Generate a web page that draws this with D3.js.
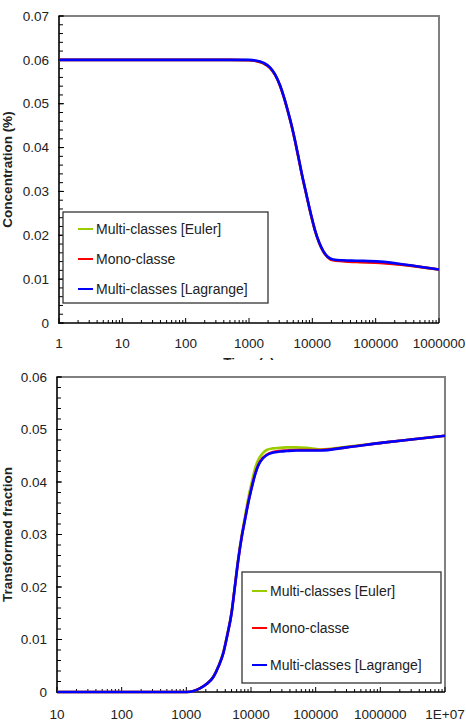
<!DOCTYPE html>
<html><head><meta charset="utf-8">
<script src="https://cdn.jsdelivr.net/npm/d3@7"></script>
<style>
html,body{margin:0;padding:0;background:#fff;}
svg{display:block;overflow:hidden;}
text{font-family:"Liberation Sans",Arial,Helvetica,sans-serif;fill:#222;}
</style></head><body>
<div id="c"></div>
<script>
// ---------- Data: panel 1 (concentration) ----------
const time1 = [1, 10, 100, 500, 1000, 1320, 1700, 2140, 2600, 3090, 3600, 4170, 4700, 5330, 6000, 6780, 7700, 8690, 9800, 11000, 12800, 14900, 17500, 21300, 30000, 50000, 117000, 300000, 1000000];
const concEuler    = [0.060, 0.060, 0.060, 0.060, 0.0599, 0.0597, 0.0592, 0.0582, 0.0565, 0.0541, 0.0512, 0.0479, 0.0450, 0.0415, 0.0379, 0.0341, 0.0305, 0.0271, 0.0239, 0.0211, 0.0183, 0.0163, 0.0150, 0.0144, 0.0142, 0.0140, 0.0138, 0.0132, 0.0122];
const concMono     = [0.060, 0.060, 0.060, 0.060, 0.0599, 0.0597, 0.0592, 0.0582, 0.0565, 0.0541, 0.0512, 0.0479, 0.0450, 0.0415, 0.0379, 0.0341, 0.0305, 0.0271, 0.0239, 0.0211, 0.0183, 0.0163, 0.0150, 0.0143, 0.0141, 0.0139, 0.0137, 0.0132, 0.0122];
const concLagrange = [0.060, 0.060, 0.060, 0.060, 0.0600, 0.0598, 0.0593, 0.0583, 0.0566, 0.0542, 0.0513, 0.0480, 0.0451, 0.0416, 0.0380, 0.0342, 0.0306, 0.0272, 0.0240, 0.0212, 0.0184, 0.0164, 0.0151, 0.0145, 0.0143, 0.0142, 0.0140, 0.0133, 0.0122];
const xTicks1 = [1, 10, 100, 1000, 10000, 100000, 1000000];
const xTickLabels1 = ["1", "10", "100", "1000", "10000", "100000", "1000000"];
const yTicks1 = [0, 0.01, 0.02, 0.03, 0.04, 0.05, 0.06, 0.07];
const yTickLabels1 = ["0", "0.01", "0.02", "0.03", "0.04", "0.05", "0.06", "0.07"];

// ---------- Data: panel 2 (transformed fraction) ----------
const time2 = [10, 100, 500, 1010, 1300, 1620, 2100, 2630, 3150, 3730, 4300, 5000, 5600, 6340, 7200, 8070, 9100, 10300, 11500, 12900, 15000, 17400, 22000, 28000, 35600, 50000, 72000, 117000, 300000, 1100000, 3000000, 10000000];
const fracEuler    = [0, 0, 0, 0.0000, 0.0002, 0.0007, 0.0016, 0.0030, 0.0050, 0.0076, 0.0110, 0.0152, 0.0200, 0.0254, 0.0300, 0.0334, 0.0370, 0.0400, 0.0425, 0.0442, 0.0454, 0.0461, 0.0464, 0.0465, 0.0466, 0.0466, 0.0465, 0.0462, 0.0467, 0.0475, 0.0481, 0.0488];
const fracMono     = [0, 0, 0, 0.0000, 0.0002, 0.0007, 0.0016, 0.0029, 0.0049, 0.0074, 0.0108, 0.0150, 0.0198, 0.0251, 0.0296, 0.0329, 0.0362, 0.0391, 0.0414, 0.0432, 0.0445, 0.0452, 0.0457, 0.0459, 0.0460, 0.0461, 0.0461, 0.0461, 0.0466, 0.0475, 0.0481, 0.0488];
const fracLagrange = [0, 0, 0, 0.0000, 0.0002, 0.0007, 0.0016, 0.0029, 0.0049, 0.0074, 0.0108, 0.0150, 0.0198, 0.0251, 0.0296, 0.0328, 0.0361, 0.0390, 0.0413, 0.0431, 0.0444, 0.0451, 0.0456, 0.0458, 0.0459, 0.0460, 0.0460, 0.0460, 0.0466, 0.0475, 0.0481, 0.0488];
const xTicks2 = [10, 100, 1000, 10000, 100000, 1000000, 10000000];
const xTickLabels2 = ["10", "100", "1000", "10000", "100000", "1000000", "1E+07"];
const yTicks2 = [0, 0.01, 0.02, 0.03, 0.04, 0.05, 0.06];
const yTickLabels2 = ["0", "0.01", "0.02", "0.03", "0.04", "0.05", "0.06"];

const seriesNames = ["Multi-classes [Euler]", "Mono-classe", "Multi-classes [Lagrange]"];
const seriesColors = ["#9acd00", "#ff0000", "#0000ff"];

function panel(opts) {
  const svg = d3.select("#c").append("svg").attr("width", 466).attr("height", opts.H);
  const m = opts.m;
  const x = d3.scaleLog().domain(opts.xDomain).range([m.l, m.r]);
  const y = d3.scaleLinear().domain(opts.yDomain).range([m.b, m.t]);

  // frame top/right (gray)
  svg.append("path")
    .attr("d", `M${m.l},${m.t}H${m.r}V${m.b}`)
    .attr("fill", "none").attr("stroke", "#808080").attr("stroke-width", 2);

  // y-axis minor ticks (inside)
  const yMinor = d3.range(opts.yDomain[0], opts.yDomain[1] + 1e-9, 0.002);
  svg.append("g").selectAll("line").data(yMinor).join("line")
    .attr("x1", m.l).attr("x2", m.l + 4)
    .attr("y1", d => y(d)).attr("y2", d => y(d))
    .attr("stroke", "#000").attr("stroke-width", 1);
  svg.append("g").selectAll("line").data(opts.yTicks).join("line")
    .attr("x1", m.l - 1).attr("x2", m.l + 5)
    .attr("y1", d => y(d)).attr("y2", d => y(d))
    .attr("stroke", "#000").attr("stroke-width", 1);

  // x-axis minor ticks (inside)
  const xMinor = [];
  opts.xTicks.forEach(t => { for (let k = 2; k <= 9; k++) if (t * k <= opts.xDomain[1]) xMinor.push(t * k); });
  svg.append("g").selectAll("line").data(xMinor).join("line")
    .attr("x1", d => x(d)).attr("x2", d => x(d))
    .attr("y1", m.b).attr("y2", m.b - 3)
    .attr("stroke", "#000").attr("stroke-width", 1);
  svg.append("g").selectAll("line").data(opts.xTicks).join("line")
    .attr("x1", d => x(d)).attr("x2", d => x(d))
    .attr("y1", m.b).attr("y2", m.b - 5)
    .attr("stroke", "#000").attr("stroke-width", 1);

  // axis lines left/bottom
  svg.append("path")
    .attr("d", `M${m.l},${m.t}V${m.b}H${m.r}`)
    .attr("fill", "none").attr("stroke", "#000").attr("stroke-width", 1.6);

  // tick labels
  svg.append("g").selectAll("text").data(opts.yTicks).join("text")
    .attr("x", m.l - 10).attr("y", d => y(d)).attr("dy", "0.35em")
    .attr("text-anchor", "end").attr("font-size", 13.5)
    .text((d, i) => opts.yTickLabels[i]);
  svg.append("g").selectAll("text").data(opts.xTicks).join("text")
    .attr("x", d => x(d)).attr("y", opts.xLabelY)
    .attr("text-anchor", "middle").attr("font-size", 13.5)
    .text((d, i) => opts.xTickLabels[i]);

  // axis titles
  svg.append("text")
    .attr("transform", `translate(12,${(m.t + m.b) / 2}) rotate(-90)`)
    .attr("text-anchor", "middle").attr("font-size", 13.5).attr("font-weight", "bold")
    .text(opts.yTitle);
  svg.append("text")
    .attr("x", (m.l + m.r) / 2).attr("y", opts.xTitleY)
    .attr("text-anchor", "middle").attr("font-size", 13.5).attr("font-weight", "bold")
    .text("Time (s)");

  // lines
  const line = d3.line().x(d => x(d[0])).y(d => y(d[1])).curve(d3.curveMonotoneX);
  opts.series.forEach((vals, i) => {
    svg.append("path")
      .datum(opts.time.map((t, j) => [t, vals[j]]))
      .attr("d", line).attr("fill", "none")
      .attr("stroke", seriesColors[i]).attr("stroke-width", 2.6)
      .attr("stroke-linejoin", "round");
  });

  // legend
  const L = opts.legend;
  svg.append("rect").attr("x", L.x).attr("y", L.y).attr("width", L.w).attr("height", L.h)
    .attr("fill", "#fff").attr("stroke", "#333").attr("stroke-width", 1.3);
  seriesNames.forEach((name, i) => {
    const cy = L.y + L.first + i * L.step;
    svg.append("line").attr("x1", L.x + L.lx).attr("x2", L.x + L.lx + 15)
      .attr("y1", cy).attr("y2", cy)
      .attr("stroke", seriesColors[i]).attr("stroke-width", 2);
    svg.append("text").attr("x", L.x + L.lx + 18).attr("y", cy).attr("dy", "0.35em")
      .attr("font-size", 14).text(name);
  });
}

panel({
  H: 360, m: {l: 59, r: 439, t: 16, b: 323},
  xDomain: [1, 1000000], yDomain: [0, 0.07],
  xTicks: xTicks1, xTickLabels: xTickLabels1, yTicks: yTicks1, yTickLabels: yTickLabels1,
  xLabelY: 348, xTitleY: 367, yTitle: "Concentration (%)",
  time: time1, series: [concEuler, concMono, concLagrange],
  legend: {x: 63, y: 212, w: 205, h: 91, first: 17, step: 30, lx: 15}
});
panel({
  H: 367, m: {l: 57, r: 445, t: 17, b: 332},
  xDomain: [10, 10000000], yDomain: [0, 0.06],
  xTicks: xTicks2, xTickLabels: xTickLabels2, yTicks: yTicks2, yTickLabels: yTickLabels2,
  xLabelY: 359, xTitleY: 377, yTitle: "Transformed fraction",
  time: time2, series: [fracEuler, fracMono, fracLagrange],
  legend: {x: 242, y: 212, w: 199, h: 111, first: 19, step: 37, lx: 10}
});
</script>
</body></html>
